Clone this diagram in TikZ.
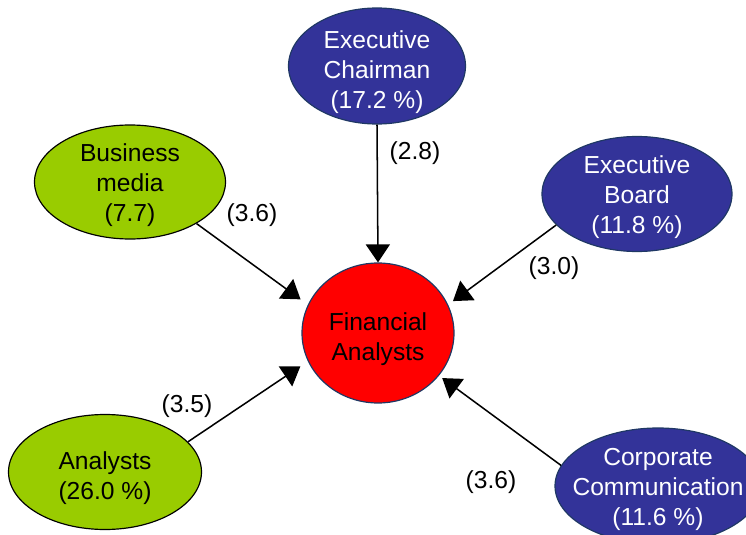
\documentclass[tikz,border=0pt]{standalone}
\usepackage{fontspec}
\setmainfont{Liberation Sans}
\usetikzlibrary{shapes.geometric,arrows.meta}
\definecolor{boardblue}{RGB}{51,51,153}
\definecolor{rimblue}{RGB}{31,56,100}
\definecolor{mediagreen}{RGB}{153,204,0}

\begin{document}
\begin{tikzpicture}[x=0.03cm, y=-0.03cm,
  every node/.style={font=\fontsize{21}{25.6}\selectfont, align=center},
  oval/.style={ellipse, line width=1pt, inner sep=-0.5cm, text depth=0pt},
  threelines/.style={text height=68pt},
  twolines/.style={text height=47pt},
  blueoval/.style={oval, threelines, draw=rimblue, fill=boardblue, text=white},
  greenoval/.style={oval, draw=black, fill=mediagreen},
  link/.style={line width=1.3pt, -{Triangle[length=0.54cm,width=0.72cm]}}]
\useasboundingbox (0,0) rectangle (746,535);

% centre node
\node[oval, twolines, draw=rimblue, fill=red,
      minimum width=4.56cm, minimum height=4.2cm] (fa) at (378,333) {Financial\\Analysts};

% sources
\node[blueoval, text height=72pt, minimum width=5.31cm, minimum height=3.48cm] (ch) at (377,66) {Executive\\Chairman\\(17.2 \%)};
\node[blueoval, minimum width=5.7cm, minimum height=3.45cm] (eb) at (637,194) {Executive\\Board\\(11.8 \%)};
\node[blueoval, minimum width=6.18cm, minimum height=3.48cm] (cc) at (658,486) {Corporate\\Communication\\(11.6 \%)};
\node[greenoval, threelines, minimum width=5.73cm, minimum height=3.42cm] (bm) at (130,182) {Business\\media\\(7.7)};
\node[greenoval, twolines, minimum width=5.79cm, minimum height=3.45cm] (an) at (105,472) {Analysts\\(26.0 \%)};

% influence arrows
\draw[link] (ch.south) -- (fa.north);
\draw[link, shorten >=0.27cm] (bm.-32) -- (fa.158);
\draw[link, shorten >=0.18cm] (eb.201) -- (fa.22);
\draw[link, shorten >=0.27cm] (an.20) -- (fa.202);
\draw[link, shorten >=0.12cm] (cc.168) -- (fa.-35);

% weights
\node (wch) at (415,153) {(2.8)};
\node (wbm) at (252,215) {(3.6)};
\node (web) at (554,268) {(3.0)};
\node (wan) at (187,406) {(3.5)};
\node (wcc) at (491,482) {(3.6)};
\end{tikzpicture}
\end{document}
